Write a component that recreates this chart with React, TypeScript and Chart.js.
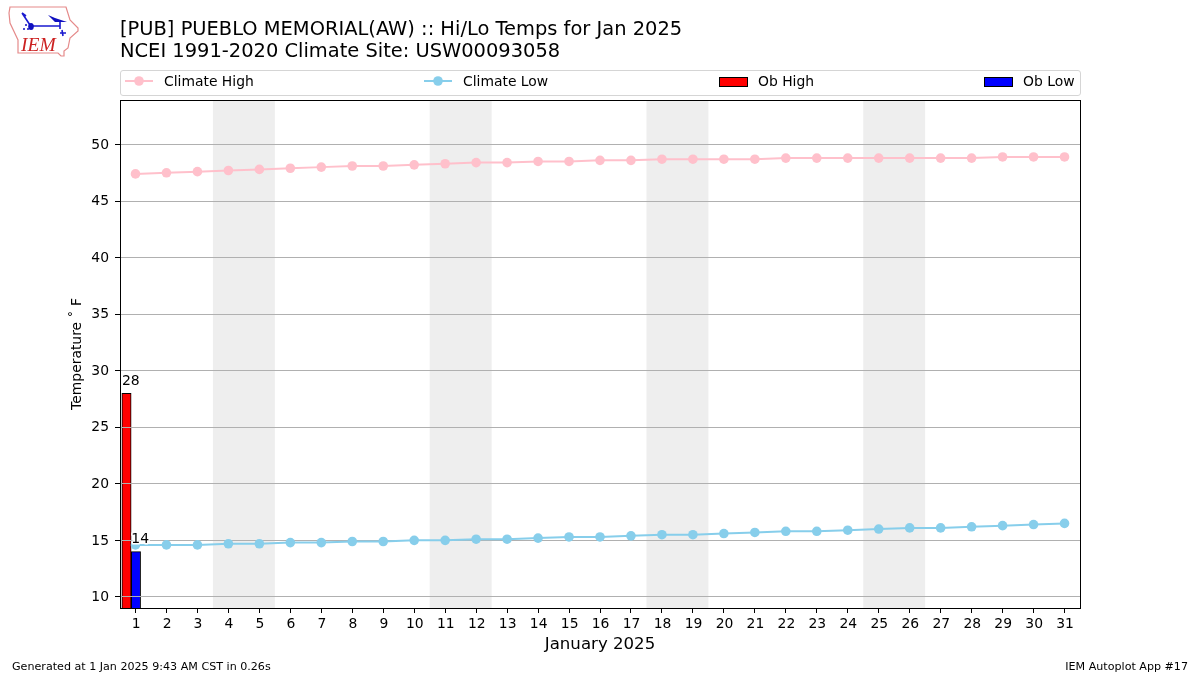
import React, { useEffect, useRef } from "react";
import { Chart, registerables } from "chart.js";

Chart.register(...registerables);

const titleLines = [
  "[PUB] PUEBLO MEMORIAL(AW) :: Hi/Lo Temps for Jan 2025",
  "NCEI 1991-2020 Climate Site: USW00093058",
];
const days = [1, 2, 3, 4, 5, 6, 7, 8, 9, 10, 11, 12, 13, 14, 15, 16, 17, 18, 19, 20, 21, 22, 23, 24, 25, 26, 27, 28, 29, 30, 31];
const climateHigh = [47.4, 47.5, 47.6, 47.7, 47.8, 47.9, 48.0, 48.1, 48.1, 48.2, 48.3, 48.4, 48.4, 48.5, 48.5, 48.6, 48.6, 48.7, 48.7, 48.7, 48.7, 48.8, 48.8, 48.8, 48.8, 48.8, 48.8, 48.8, 48.9, 48.9, 48.9];
const climateLow = [14.6, 14.6, 14.6, 14.7, 14.7, 14.8, 14.8, 14.9, 14.9, 15.0, 15.0, 15.1, 15.1, 15.2, 15.3, 15.3, 15.4, 15.5, 15.5, 15.6, 15.7, 15.8, 15.8, 15.9, 16.0, 16.1, 16.1, 16.2, 16.3, 16.4, 16.5];
const obHighValues = [{ x: 0.71, y: 28 }];
const obLowValues = [{ x: 1.015, y: 14 }];
const weekendBands = [[3.5, 5.5], [10.5, 12.5], [17.5, 19.5], [24.5, 26.5]];
const font = "'DejaVu Sans', sans-serif";
const gridColor = "#b0b0b0";

const weekendPlugin = {
  id: "weekends",
  beforeDraw(chart: any) {
    const { ctx, chartArea, scales } = chart;
    ctx.save();
    ctx.fillStyle = "#eeeeee";
    for (const [a, b] of weekendBands) {
      const x0 = scales.x.getPixelForValue(a);
      const x1 = scales.x.getPixelForValue(b);
      ctx.fillRect(x0, chartArea.top, x1 - x0, chartArea.bottom - chartArea.top);
    }
    ctx.restore();
  },
  // the reference's grid runs over the bars but under the lines
  afterDatasetDraw(chart: any, args: any) {
    if (args.meta.type !== "bar") return;
    const { ctx, chartArea, scales } = chart;
    ctx.save();
    ctx.strokeStyle = gridColor;
    ctx.lineWidth = 1;
    for (const t of scales.y.ticks) {
      const y = Math.round(scales.y.getPixelForValue(t.value) - 0.5) + 0.5;
      ctx.beginPath();
      ctx.moveTo(chartArea.left, y);
      ctx.lineTo(chartArea.right, y);
      ctx.stroke();
    }
    ctx.restore();
  },
};

const framePlugin = {
  id: "frame",
  afterDraw(chart: any) {
    const { ctx, chartArea: a } = chart;
    ctx.save();
    ctx.strokeStyle = "#000";
    ctx.lineWidth = 1;
    ctx.strokeRect(Math.round(a.left) + 0.5, Math.round(a.top) + 0.5, Math.round(a.right - a.left), Math.round(a.bottom - a.top));
    ctx.font = `14px ${font}`;
    ctx.textBaseline = "bottom";
    ctx.textAlign = "left";
    ctx.lineJoin = "round";
    chart.data.datasets.forEach((ds: any, i: number) => {
      if (ds.type !== "bar") return;
      const el = chart.getDatasetMeta(i).data[0];
      const txt = String(ds.data[0].y);
      const x = el.x - 4.6;
      const y = el.y - 5;
      ctx.strokeStyle = "#fff";
      ctx.lineWidth = 3;
      ctx.strokeText(txt, x, y);
      ctx.fillStyle = "#000";
      ctx.fillText(txt, x, y);
    });
    ctx.restore();
  },
};

const legendItems = [
  { label: "Climate High", kind: "line", color: "#ffc0cb", x: 125 },
  { label: "Climate Low", kind: "line", color: "#87ceeb", x: 424 },
  { label: "Ob High", kind: "box", color: "#ff0000", x: 719 },
  { label: "Ob Low", kind: "box", color: "#0000ff", x: 984 },
];

const abs = (left: number, top: number, extra: any = {}) => ({
  position: "absolute" as const,
  left,
  top,
  fontFamily: font,
  whiteSpace: "nowrap" as const,
  color: "#000",
  ...extra,
});

export default function App() {
  const ref = useRef<HTMLCanvasElement>(null);
  useEffect(() => {
    const chart = new Chart(ref.current as HTMLCanvasElement, {
      type: "bar",
      data: {
        datasets: [
          { type: "bar", label: "Ob High", data: obHighValues, backgroundColor: "#ff0000", borderColor: "#000", borderWidth: 1, barThickness: 9.3, grouped: false, order: 2 },
          { type: "bar", label: "Ob Low", data: obLowValues, backgroundColor: "#0000ff", borderColor: "#000", borderWidth: 1, barThickness: 9.3, grouped: false, order: 2 },
          { type: "line", label: "Climate High", data: days.map((d, i) => ({ x: d, y: climateHigh[i] })), borderColor: "#ffc0cb", backgroundColor: "#ffc0cb", borderWidth: 2, pointRadius: 4.8, pointBorderWidth: 0, tension: 0, order: 1 },
          { type: "line", label: "Climate Low", data: days.map((d, i) => ({ x: d, y: climateLow[i] })), borderColor: "#87ceeb", backgroundColor: "#87ceeb", borderWidth: 2, pointRadius: 4.8, pointBorderWidth: 0, tension: 0, order: 1 },
        ] as any,
      },
      options: {
        responsive: false,
        animation: false,
        events: [],
        layout: { padding: { left: 68, right: 120, top: 100, bottom: 20 } },
        plugins: { legend: { display: false }, title: { display: false }, tooltip: { enabled: false } },
        scales: {
          x: {
            type: "linear",
            min: 0.5,
            max: 31.5,
            offset: false,
            afterBuildTicks: (s: any) => {
              s.ticks = days.map((d) => ({ value: d }));
            },
            afterFit: (s: any) => {
              s.height = 47;
            },
            ticks: { autoSkip: false, maxRotation: 0, color: "#000", font: { family: font, size: 13.9 }, padding: 3, labelOffset: 0.6, callback: (v: any) => String(v) },
            grid: { offset: false, drawOnChartArea: false, color: "#000", tickColor: "#000", tickLength: 5 },
            border: { color: "#000" },
            title: { display: true, text: "January 2025", color: "#000", font: { family: font, size: 16.6 }, padding: { top: 0, bottom: 0 } },
          },
          y: {
            type: "linear",
            min: 9.019,
            max: 53.935,
            afterFit: (s: any) => {
              s.width = 52;
            },
            ticks: { stepSize: 5, includeBounds: false, color: "#000", font: { family: font, size: 13.9 }, padding: 6, labelOffset: 0.6 },
            grid: { color: gridColor, tickColor: "#000", tickLength: 5, lineWidth: 1 },
            border: { color: "#000" },
            title: { display: true, text: "Temperature \u02DA F", color: "#000", font: { family: font, size: 13.9 }, padding: { top: 1, bottom: 0 } },
          },
        },
      } as any,
      plugins: [weekendPlugin, framePlugin],
    });
    return () => chart.destroy();
  }, []);

  return (
    <div style={{ position: "absolute", left: 0, top: 0, width: 1200, height: 675, overflow: "hidden", background: "#fff" }}>
      <canvas ref={ref} width={1200} height={675} style={{ position: "absolute", left: 0, top: 0, width: 1200, height: 675 }} />
      <svg style={{ position: "absolute", left: 0, top: 0 }} width={90} height={62}>
        <path d="M9 13 L10 7 L66 7 L70 20 L78 28 L78 31 L70 38 L68 48 L64 51 L64 56 L61 56 L58 53 L18 53 L18 40 L10 23 Z" fill="none" stroke="#e58a8a" strokeWidth={1.2} />
        <path d="M31 26 L60 26 M60 21 L60 29 M22 13 L30 25 M22 13 L26 16 M62 30 L63 36 M60 33 L66 33" stroke="#1a1ad0" strokeWidth={1.6} fill="none" />
        <ellipse cx={31} cy={26.5} rx={2.8} ry={3.6} fill="#1010c0" />
        <path d="M48 15 L55 18 L67 22 L55 22 Z" fill="#1010c0" />
        <circle cx={24} cy={29} r={1} fill="#1010c0" />
        <circle cx={26} cy={25} r={1} fill="#1010c0" />
        <circle cx={28} cy={29} r={1} fill="#1010c0" />
        <text x={21} y={51} fontFamily="'Liberation Serif', serif" fontStyle="italic" fontSize={19.5} fill="#cc2222">IEM</text>
      </svg>
      {titleLines.map((t, i) => (
        <div key={i} style={abs(120, 18 + i * 22, { fontSize: 19.44, lineHeight: "22px" })}>{t}</div>
      ))}
      <div style={{ position: "absolute", left: 120, top: 70, width: 959, height: 24, border: "1px solid #d5d5d5", borderRadius: 3, boxSizing: "content-box" }} />
      {legendItems.map((it) => (
        <React.Fragment key={it.label}>
          {it.kind === "line" ? (
            <svg style={{ position: "absolute", left: it.x, top: 72 }} width={28} height={18}>
              <line x1={0} y1={9} x2={28} y2={9} stroke={it.color} strokeWidth={2} />
              <circle cx={14} cy={9} r={4.8} fill={it.color} />
            </svg>
          ) : (
            <div style={{ position: "absolute", left: it.x, top: 77, width: 27, height: 8, background: it.color, border: "1px solid #000" }} />
          )}
          <div style={abs(it.x + 39, 73, { fontSize: 13.9, lineHeight: "16px" })}>{it.label}</div>
        </React.Fragment>
      ))}
      <div style={abs(12, 660, { fontSize: 11.12, lineHeight: "13px" })}>Generated at 1 Jan 2025 9:43 AM CST in 0.26s</div>
      <div style={{ ...abs(0, 660, { fontSize: 11.12, lineHeight: "13px" }), left: undefined, right: 12 }}>IEM Autoplot App #17</div>
    </div>
  );
}
